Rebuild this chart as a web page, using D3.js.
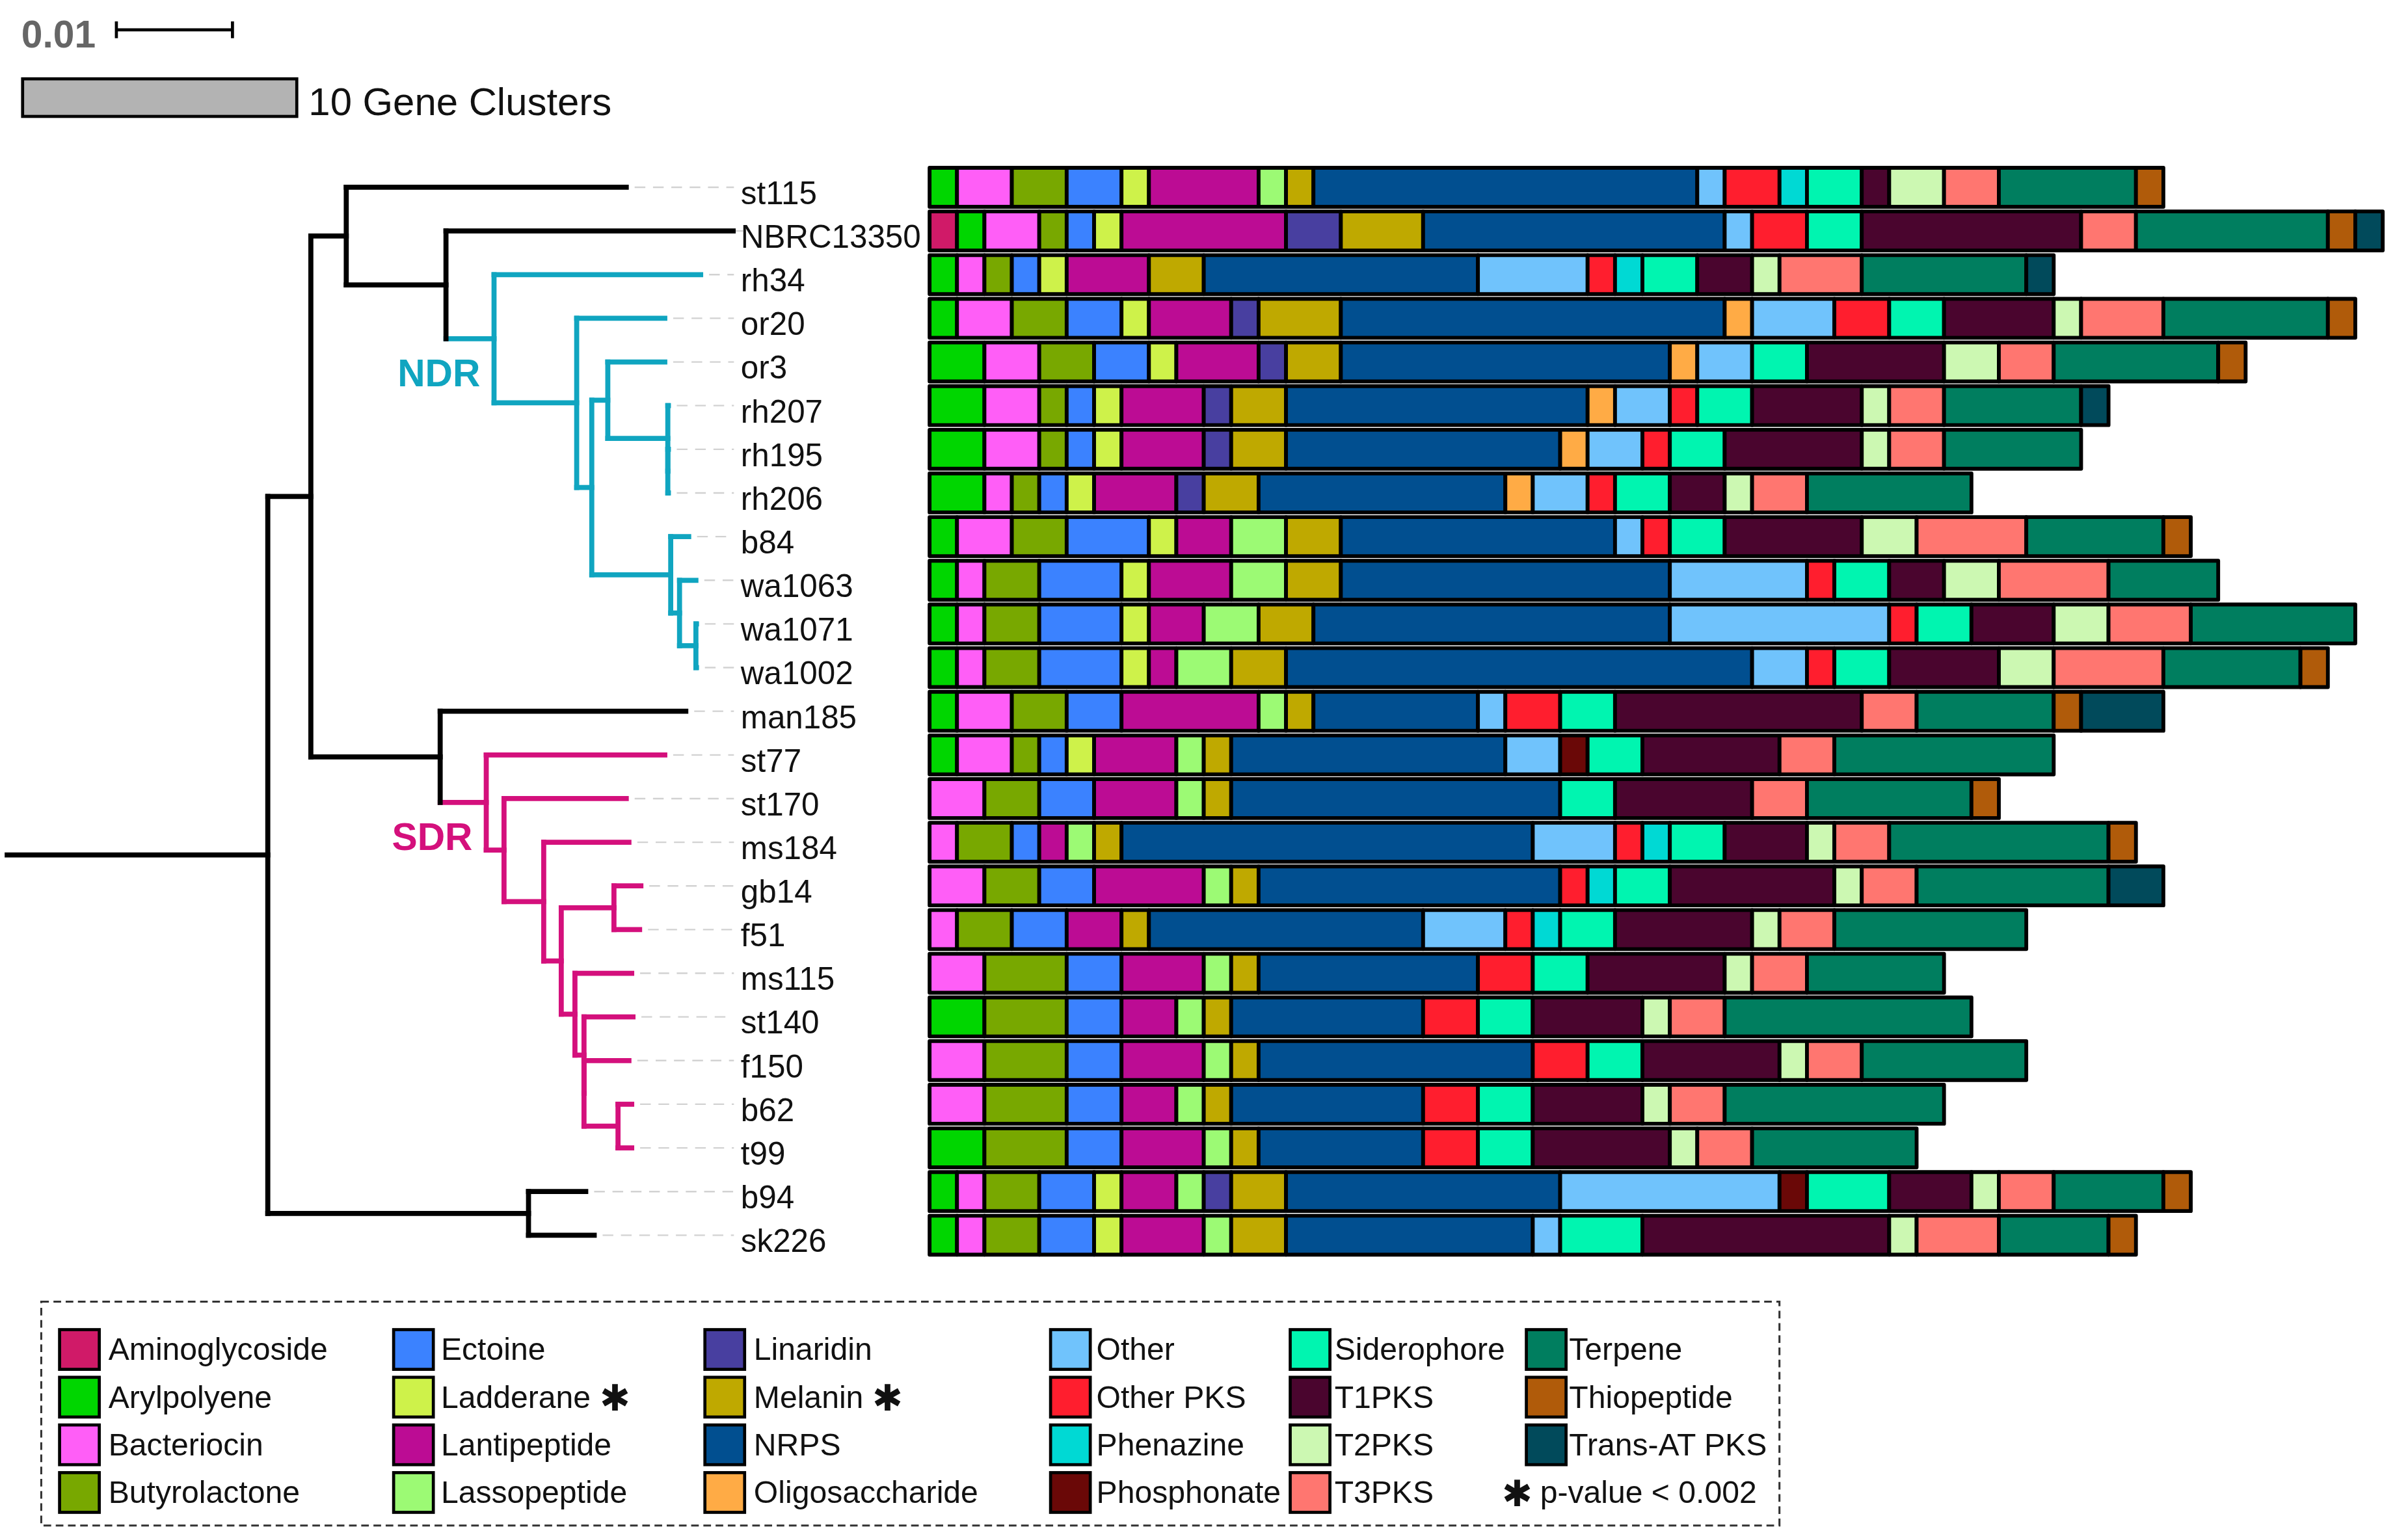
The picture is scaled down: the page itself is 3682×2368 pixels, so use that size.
<!DOCTYPE html>
<html>
<head>
<meta charset="utf-8">
<script src="https://cdnjs.cloudflare.com/ajax/libs/d3/7.8.5/d3.min.js"></script>
<style>
  body { margin: 0; background: #fff; }
  svg { display: block; }
  text { font-family: "Liberation Sans", Arial, sans-serif; }
</style>
</head>
<body>
<div id="chart"></div>
<script>
// strains, top to bottom (tree order)
var strains = ['st115','NBRC13350','rh34','or20','or3','rh207','rh195','rh206','b84','wa1063','wa1071','wa1002',
  'man185','st77','st170','ms184','gb14','f51','ms115','st140','f150','b62','t99','b94','sk226'];

var categories = ['Aminoglycoside','Arylpolyene','Bacteriocin','Butyrolactone','Ectoine','Ladderane','Lantipeptide',
  'Lassopeptide','Linaridin','Melanin','NRPS','Oligosaccharide','Other','Other PKS','Phenazine','Phosphonate',
  'Siderophore','T1PKS','T2PKS','T3PKS','Terpene','Thiopeptide','Trans-AT PKS'];

var colors = ['#d01a68','#00d600','#ff5ef7','#78a800','#3b82ff','#cef24a','#bc0c94',
  '#9cfa74','#483fa0','#bfa900','#014f90','#ffab45','#70c3fc','#ff1e2e','#00d9d4','#6a0807',
  '#00f5b0','#4a052e','#ccf8b2','#ff7670','#007e5f','#b05b0a','#014a5b'];

var starred = ['Ladderane','Melanin'];

// gene cluster counts per strain (same order as strains)
var aminoglycoside  = [0,1,0,0,0,0,0,0,0,0,0,0,0,0,0,0,0,0,0,0,0,0,0,0,0];
var arylpolyene     = [1,1,1,1,2,2,2,2,1,1,1,1,1,1,0,0,0,0,0,2,0,0,2,1,1];
var bacteriocin     = [2,2,1,2,2,2,2,1,2,1,1,1,2,2,2,1,2,1,2,0,2,2,0,1,1];
var butyrolactone   = [2,1,1,2,2,1,1,1,2,2,2,2,2,1,2,2,2,2,3,3,3,3,3,2,2];
var ectoine         = [2,1,1,2,2,1,1,1,3,3,3,3,2,1,2,1,2,2,2,2,2,2,2,2,2];
var ladderane       = [1,1,1,1,1,1,1,1,1,1,1,1,0,1,0,0,0,0,0,0,0,0,0,1,1];
var lantipeptide    = [4,6,3,3,3,3,3,3,2,3,2,1,5,3,3,1,4,2,3,2,3,2,3,2,3];
var lassopeptide    = [1,0,0,0,0,0,0,0,2,2,2,2,1,1,1,1,1,0,1,1,1,1,1,1,1];
var linaridin       = [0,2,0,1,1,1,1,1,0,0,0,0,0,0,0,0,0,0,0,0,0,0,0,1,0];
var melanin         = [1,3,2,3,2,2,2,2,2,2,2,2,1,1,1,1,1,1,1,1,1,1,1,2,2];
var nrps            = [14,11,10,14,12,11,10,9,10,12,13,17,6,10,12,15,11,10,8,7,10,7,6,10,9];
var oligosaccharide = [0,0,0,1,1,1,1,1,0,0,0,0,0,0,0,0,0,0,0,0,0,0,0,0,0];
var other           = [1,1,4,3,2,2,2,2,1,5,8,2,1,2,0,3,0,3,0,0,0,0,0,8,1];
var otherPks        = [2,2,1,2,0,1,1,1,1,1,1,1,2,0,0,1,1,1,2,2,2,2,2,0,0];
var phenazine       = [1,0,1,0,0,0,0,0,0,0,0,0,0,0,0,1,1,1,0,0,0,0,0,0,0];
var phosphonate     = [0,0,0,0,0,0,0,0,0,0,0,0,0,1,0,0,0,0,0,0,0,0,0,1,0];
var siderophore     = [2,2,2,2,2,2,2,2,2,2,2,2,2,2,2,2,2,2,2,2,2,2,2,3,3];
var t1pks           = [1,8,2,4,5,4,5,2,5,2,3,4,9,5,5,3,6,5,5,4,5,4,5,3,9];
var t2pks           = [2,0,1,1,2,1,1,1,2,2,2,2,0,0,0,1,1,1,1,1,1,1,1,1,1];
var t3pks           = [2,2,3,3,2,2,2,2,4,4,3,4,2,2,2,2,2,2,2,2,2,2,2,2,3];
var terpene         = [5,7,6,6,6,5,5,6,5,4,6,5,5,8,6,8,7,7,5,9,6,8,6,4,4];
var thiopeptide     = [1,1,0,1,1,0,0,0,1,0,0,1,1,0,1,1,0,0,0,0,0,0,0,1,1];
var transAtPks      = [0,1,1,0,0,1,0,0,0,0,0,0,3,0,0,0,2,0,0,0,0,0,0,0,0];

var series = [aminoglycoside, arylpolyene, bacteriocin, butyrolactone, ectoine, ladderane, lantipeptide,
  lassopeptide, linaridin, melanin, nrps, oligosaccharide, other, otherPks, phenazine, phosphonate,
  siderophore, t1pks, t2pks, t3pks, terpene, thiopeptide, transAtPks];

// phylogeny (substitutions per site)
var newick = '(((st115:0.02412,(NBRC13350:0.02474,(rh34:0.0178,(or20:0.00759,((or3:0.00491,(rh207:0.00005,(rh195:0.00005,rh206:0.00005):0):0.00517):0.00138,(b84:0.00155,(wa1063:0.00141,(wa1071:0.00005,wa1002:0.00005):0.00141):0.00076):0.0068):0.0013):0.00712)NDR:0.00414):0.00859):0.00305,' +
  '(man185:0.02116,(st77:0.01538,(st170:0.01053,(ms184:0.00734,((gb14:0.00232,f51:0.00221):0.00454,(ms115:0.00489,(st140:0.00422,(f150:0.00387,(b62:0.00118,t99:0.00118):0.00293):0):0.00078):0.00118):0.00151):0.00342):0.00153)SDR:0.00397):0.01114):0.00371,' +
  '(b94:0.00493,sk226:0.00566):0.02246):0.02245;';

var cladeColor = { NDR: '#10a5c0', SDR: '#d4107c' };

var W = 1568, H = 1008;
var svg = d3.select('#chart').append('svg')
  .attr('width', 3682).attr('height', 2368)
  .attr('viewBox', '0 0 ' + W + ' ' + H)
  .attr('preserveAspectRatio', 'none');

var rowPitch = 28.58;
var y = d3.scaleBand().domain(strains).range([108.3, 108.3 + rowPitch * strains.length]);
function yc(s) { return y(s) + y.bandwidth() / 2; }

var x = d3.scaleLinear().domain([0, 53]).range([608.6, 608.6 + 53 * 17.95]);
var xt = d3.scaleLinear().domain([0, 0.01]).range([4.7, 80.7]);

// ---- stacked bars
var table = strains.map(function(s, i) {
  var o = { strain: s };
  categories.forEach(function(c, j) { o[c] = series[j][i]; });
  return o;
});
var stack = d3.stack().keys(categories)(table);

var barH = 25.5;
var bars = svg.append('g');
bars.selectAll('g').data(stack).enter().append('g')
  .attr('fill', function(d, i) { return colors[i]; })
  .selectAll('rect')
  .data(function(d) { return d.filter(function(v) { return v[1] - v[0] > 0; }); })
  .enter().append('rect')
  .attr('x', function(d) { return x(d[0]); })
  .attr('width', function(d) { return x(d[1]) - x(d[0]); })
  .attr('y', function(d) { return yc(d.data.strain) - barH / 2; })
  .attr('height', barH)
  .attr('stroke', '#000')
  .attr('stroke-width', 2.5)
  .attr('stroke-linejoin', 'round');

// ---- tree
function parseNewick(s) {
  var ancestors = [], tree = {}, tokens = s.split(/\s*(;|\(|\)|,|:)\s*/);
  for (var i = 0; i < tokens.length; i++) {
    var t = tokens[i], sub;
    switch (t) {
      case '(': sub = {}; tree.children = [sub]; ancestors.push(tree); tree = sub; break;
      case ',': sub = {}; ancestors[ancestors.length - 1].children.push(sub); tree = sub; break;
      case ')': tree = ancestors.pop(); break;
      case ':': case ';': case '': break;
      default:
        var p = tokens[i - 1];
        if (p == ')' || p == '(' || p == ',') tree.name = t;
        else if (p == ':') tree.length = parseFloat(t);
    }
  }
  return tree;
}

var root = d3.hierarchy(parseNewick(newick));
root.eachBefore(function(n) {
  n.dist = (n.parent ? n.parent.dist : 0) + (n.data.length || 0);
  n.px = xt(n.dist);
  n.clade = cladeColor[n.data.name] ? n.data.name : (n.parent ? n.parent.clade : null);
});
root.eachAfter(function(n) {
  if (n.children) n.py = (n.children[0].py + n.children[n.children.length - 1].py) / 2;
  else n.py = yc(n.data.name);
});

function col(n) { return n.clade ? cladeColor[n.clade] : '#000'; }

var tree = svg.append('g').attr('fill', 'none').attr('stroke-width', 3.3).attr('stroke-linecap', 'square');

// leader lines
tree.selectAll('.lead').data(root.leaves()).enter().append('line')
  .attr('x1', function(d) { return d.px + 6; })
  .attr('x2', 480)
  .attr('y1', function(d) { return d.py; })
  .attr('y2', function(d) { return d.py; })
  .attr('stroke', '#d2d2d2').attr('stroke-width', 1).attr('stroke-dasharray', '6,6');

tree.append('line')
  .attr('x1', xt(0)).attr('x2', root.px)
  .attr('y1', root.py).attr('y2', root.py)
  .attr('stroke', '#000');

tree.selectAll('.h').data(root.descendants().slice(1)).enter().append('path')
  .attr('d', function(d) { return 'M' + d.parent.px + ',' + d.py + 'H' + d.px; })
  .attr('stroke', col);

tree.selectAll('.v').data(root.descendants().filter(function(d) { return d.children; })).enter().append('path')
  .attr('d', function(d) {
    return 'M' + d.px + ',' + d.children[0].py + 'V' + d.children[d.children.length - 1].py;
  })
  .attr('stroke', col);

// clade labels
svg.selectAll('.clade').data(root.descendants().filter(function(d) { return cladeColor[d.data.name]; }))
  .enter().append('text')
  .attr('x', function(d) { return d.px - 9; })
  .attr('y', function(d) { return d.py + 31; })
  .attr('text-anchor', 'end')
  .attr('font-size', 25).attr('font-weight', 'bold')
  .attr('fill', function(d) { return cladeColor[d.data.name]; })
  .text(function(d) { return d.data.name; });

// strain labels
svg.selectAll('.lab').data(strains).enter().append('text')
  .attr('x', 485)
  .attr('y', function(d) { return yc(d) + 11; })
  .attr('font-size', 21).attr('fill', '#111')
  .text(function(d) { return d; });

// ---- scale bars
svg.append('text').attr('x', 14).attr('y', 31).attr('font-size', 25).attr('font-weight', 'bold')
  .attr('fill', '#666').text('0.01');
var sb = svg.append('g').attr('stroke', '#000').attr('stroke-width', 2);
sb.append('line').attr('x1', xt(0) + 71.5).attr('x2', xt(0.01) + 71.5).attr('y1', 19.5).attr('y2', 19.5);
sb.append('line').attr('x1', xt(0) + 71.5).attr('x2', xt(0) + 71.5).attr('y1', 14).attr('y2', 25);
sb.append('line').attr('x1', xt(0.01) + 71.5).attr('x2', xt(0.01) + 71.5).attr('y1', 14).attr('y2', 25);

svg.append('rect').attr('x', 14.8).attr('y', 51.6)
  .attr('width', x(10) - x(0)).attr('height', 24.6)
  .attr('fill', '#b3b3b3').attr('stroke', '#000').attr('stroke-width', 2);
svg.append('text').attr('x', 202).attr('y', 75.5).attr('font-size', 25.5).attr('fill', '#111')
  .text('10 Gene Clusters');

// ---- legend
svg.append('rect').attr('x', 27).attr('y', 852).attr('width', 1138).attr('height', 146.5)
  .attr('fill', 'none').attr('stroke', '#333').attr('stroke-width', 1.3).attr('stroke-dasharray', '5,3');

var legX = [39, 257.7, 461.5, 687.8, 844.7, 999.3];
var legTextDx = [32, 31, 32, 30, 29, 28];
var legY0 = 870.3, legPitch = 31.2;

var leg = svg.selectAll('.leg').data(categories).enter().append('g')
  .attr('transform', function(d, i) {
    return 'translate(' + legX[Math.floor(i / 4)] + ',' + (legY0 + (i % 4) * legPitch) + ')';
  });
leg.append('rect').attr('width', 26).attr('height', 26)
  .attr('fill', function(d, i) { return colors[i]; })
  .attr('stroke', '#000').attr('stroke-width', 2);
leg.append('text')
  .attr('x', function(d, i) { return legTextDx[Math.floor(i / 4)]; })
  .attr('y', 20)
  .attr('font-size', 20.5).attr('fill', '#111')
  .text(function(d) { return d; })
  .each(function(d) {
    if (starred.indexOf(d) < 0) return;
    var w = this.getComputedTextLength();
    d3.select(this.parentNode).append('text')
      .attr('x', +d3.select(this).attr('x') + w + 16).attr('y', 22)
      .attr('text-anchor', 'middle')
      .attr('font-family', 'DejaVu Sans').attr('font-size', 24).attr('fill', '#111')
      .text('\u2731');
  });

var pv = svg.append('g').attr('transform', 'translate(' + legX[5] + ',' + (legY0 + 3 * legPitch) + ')');
pv.append('text').attr('x', -6).attr('y', 22).attr('text-anchor', 'middle')
  .attr('font-family', 'DejaVu Sans').attr('font-size', 24).attr('fill', '#111').text('\u2731');
pv.append('text').attr('x', 9).attr('y', 20).attr('font-size', 20.5).attr('fill', '#111')
  .text('p-value < 0.002');
</script>
</body>
</html>
